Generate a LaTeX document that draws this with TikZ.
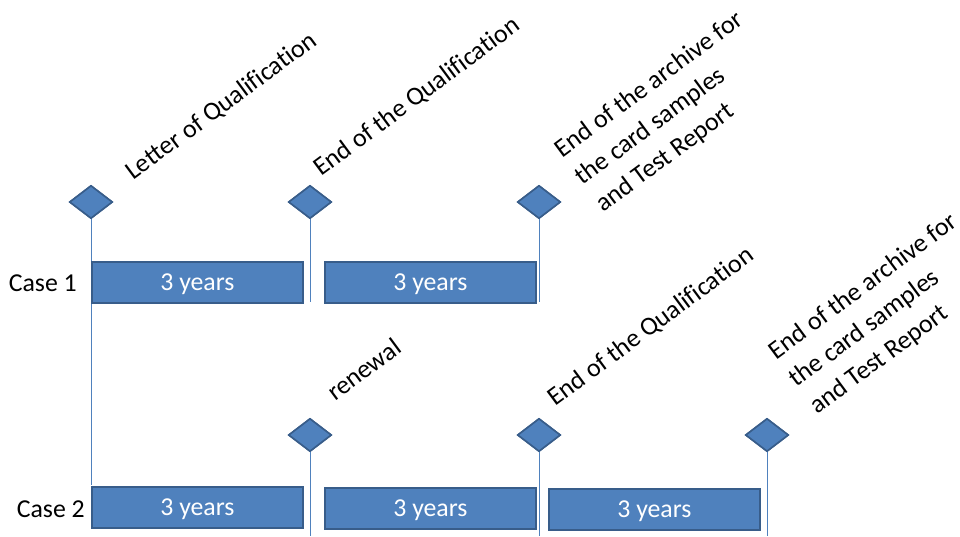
\documentclass[tikz,border=0pt]{standalone}
\usepackage{fontspec}
\setmainfont{Carlito}[Ligatures={NoCommon}]
\usetikzlibrary{shapes.geometric}
\definecolor{barblue}{HTML}{4F81BD}
\definecolor{bardark}{HTML}{385D8A}
\definecolor{linkblue}{HTML}{4F81BD}
\tikzset{
  lbl/.style={font=\fontsize{25.8}{34}\selectfont},
  rlbl/.style={font=\fontsize{26}{34}\selectfont},
  milestone/.style={shape=diamond, draw=bardark, fill=barblue, line width=1.6pt, minimum width=43pt, minimum height=33pt, inner sep=0pt},
  bar/.style={rectangle, draw=bardark, fill=barblue, line width=1.8pt, minimum width=211pt, minimum height=41pt, inner sep=0pt, anchor=north west, text=white, lbl, text height=20pt, text depth=3pt},
  tick/.style={draw=linkblue, line width=0.9pt},
  rotlbl/.style={rlbl, rotate=36.5, anchor=base west, inner sep=0pt, align=left},
  caselbl/.style={lbl, anchor=base east, inner sep=0pt}
}
\begin{document}
\begin{tikzpicture}[x=1pt,y=-1pt]
\useasboundingbox (0,0) rectangle (960,536);
% milestones
\node[milestone] (m1) at (91,202) {};
\node[milestone] (m2) at (310,202) {};
\node[milestone] (m3) at (539,202) {};
\node[milestone] (n2) at (310,435) {};
\node[milestone] (n3) at (539,435) {};
\node[milestone] (n4) at (767,435) {};
% line ends
\coordinate (e1) at (91,485);
\coordinate (e2) at (310,302);
\coordinate (e3) at (539,302);
\coordinate (f2) at (310,536);
\coordinate (f3) at (539,536);
\coordinate (f4) at (767,536);
\draw[tick] (m1.south) -- (e1);
\draw[tick] (m2.south) -- (e2);
\draw[tick] (m3.south) -- (e3);
\draw[tick] (n2.south) -- (f2);
\draw[tick] (n3.south) -- (f3);
\draw[tick] (n4.south) -- (f4);
% redraw milestones on top of the lines
\node[milestone] at (m1) {};
\node[milestone] at (m2) {};
\node[milestone] at (m3) {};
\node[milestone] at (n2) {};
\node[milestone] at (n3) {};
\node[milestone] at (n4) {};
% bars
\node[bar] (b11) at (91,261) {3 years};
\node[bar] (b12) at (324,261) {3 years};
\node[bar] (b21) at (91,486) {3 years};
\node[bar] (b22) at (324,487) {3 years};
\node[bar] (b23) at (548,488) {3 years};
% case labels
\node[caselbl] (c1) at (77,291) {Case 1};
\node[caselbl] (c2) at (85,517) {Case 2};
% rotated labels (anchor = baseline of the last line)
\node[rotlbl] (t1) at (133,181) {Letter of Qualification};
\node[rotlbl] (t2) at (321,177) {End of the Qualification};
\node[rotlbl] (t3) at (603,213) {End of the archive for\\the card samples\\and Test Report};
\node[rotlbl] (t4) at (335,402) {renewal};
\node[rotlbl] (t5) at (555,407) {End of the Qualification};
\node[rotlbl] (t6) at (817,415) {End of the archive for\\the card samples\\and Test Report};
\end{tikzpicture}
\end{document}
